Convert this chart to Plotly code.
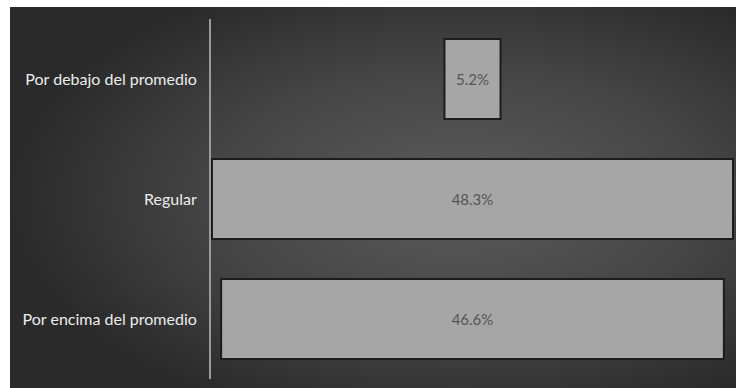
import base64
import plotly.graph_objects as go

# Survey result shares (percent)
categories = ["Por debajo del promedio", "Regular", "Por encima del promedio"]
values = [5.2, 48.3, 46.6]
value_labels = ["5.2%", "48.3%", "46.6%"]

W, H = 736, 388
ML, MR, MT, MB = 211, 2, 19, 9
pw, ph = W - ML - MR, H - MT - MB

# Dark radial-gradient panel behind the chart
svg = """<svg xmlns='http://www.w3.org/2000/svg' width='726' height='381' viewBox='0 0 726 381' preserveAspectRatio='none'>
<defs><radialGradient id='g' cx='0.62' cy='0.5' r='0.62' gradientUnits='objectBoundingBox'>
<stop offset='0' stop-color='#5c5c5c'/><stop offset='0.55' stop-color='#454545'/><stop offset='1' stop-color='#2a2a2a'/>
</radialGradient></defs><rect width='726' height='381' fill='url(#g)'/></svg>"""
bg_src = "data:image/svg+xml;base64," + base64.b64encode(svg.encode()).decode()

def px_x(p):
    return (p - ML) / pw

def px_y(p):
    return (H - MB - p) / ph

fig = go.Figure(go.Funnel(
    y=categories,
    x=values,
    text=value_labels,
    textinfo="text",
    textposition="inside",
    insidetextanchor="middle",
    textfont=dict(family="Lato, Carlito, sans-serif", size=15, color="#555555"),
    marker=dict(color="#a6a6a6", line=dict(color="#1c1c1c", width=2)),
    connector=dict(visible=False),
    hoverinfo="skip",
))

fig.update_layout(
    width=W, height=H,
    margin=dict(l=ML, r=MR, t=MT, b=MB),
    paper_bgcolor="white",
    plot_bgcolor="rgba(0,0,0,0)",
    funnelgap=0.333,
    showlegend=False,
    images=[dict(
        source=bg_src, xref="paper", yref="paper",
        x=px_x(10), y=px_y(7),
        sizex=px_x(W) - px_x(10), sizey=px_y(7) - px_y(H),
        xanchor="left", yanchor="top", sizing="stretch", layer="below",
    )],
    xaxis=dict(range=[-24.24, 24.24], visible=False, fixedrange=True),
    yaxis=dict(
        showline=True, linecolor="#9a9a9a", linewidth=2,
        showgrid=False, zeroline=False, ticks="",
        ticklabelstandoff=9,
        tickfont=dict(family="Lato, Carlito, sans-serif", size=16, color="#ececec"),
    ),
)

fig.write_html("out.html")
